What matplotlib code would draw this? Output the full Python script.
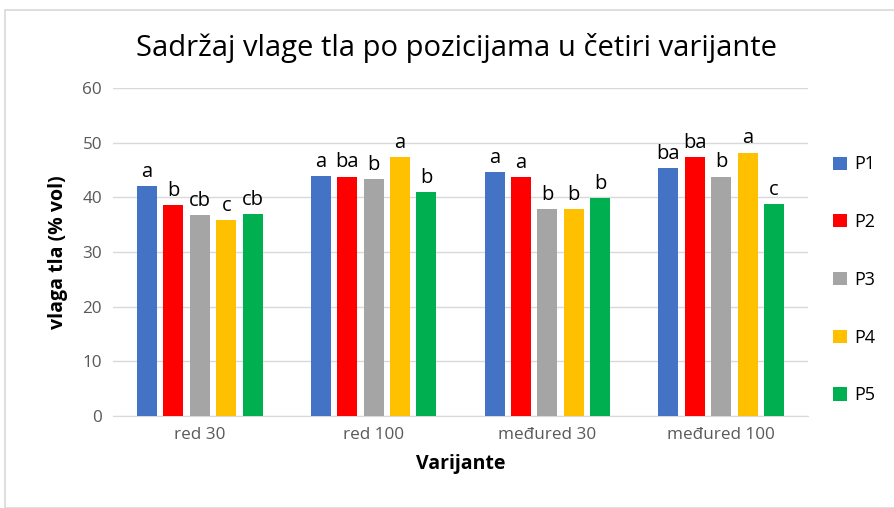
import matplotlib
matplotlib.use("Agg")
import matplotlib.pyplot as plt
import numpy as np
from matplotlib.patches import Rectangle

categories = ["red 30", "red 100", "međured 30", "međured 100"]
series_names = ["P1", "P2", "P3", "P4", "P5"]
P1 = [42.1, 43.9, 44.6, 45.3]
P2 = [38.6, 43.8, 43.7, 47.3]
P3 = [36.8, 43.3, 37.9, 43.8]
P4 = [35.8, 47.4, 37.9, 48.2]
P5 = [36.9, 41.0, 39.9, 38.8]
letters = {
    "P1": ["a", "a", "a", "ba"],
    "P2": ["b", "ba", "a", "ba"],
    "P3": ["cb", "b", "b", "b"],
    "P4": ["c", "a", "b", "a"],
    "P5": ["cb", "b", "b", "c"],
}
colors = ["#4472C4", "#FF0000", "#A5A5A5", "#FFC000", "#00B050"]
values = [P1, P2, P3, P4, P5]

plt.rcParams['font.family'] = ['Open Sans', 'DejaVu Sans']

fig = plt.figure(figsize=(8.94, 5.08), dpi=100)
fig.patches.append(Rectangle((5/894, 0), 1, 1 - 10/508, transform=fig.transFigure,
                             fill=False, edgecolor="#d9d9d9", linewidth=1.2))
ax = fig.add_axes([113/894, 1 - 416/508, 695/894, 328/508])

x = np.arange(len(categories))
step = 0.152
width = 0.115
for i, (name, vals, col) in enumerate(zip(series_names, values, colors)):
    pos = x + (i - 2) * step
    bars = ax.bar(pos, vals, width=width, color=col, label=name, zorder=3)
    for b, lab in zip(bars, letters[name]):
        ax.annotate(lab, (b.get_x() + b.get_width() / 2, b.get_height()),
                    xytext=(0, 3), textcoords="offset points",
                    ha="center", va="bottom", fontsize=14.5, color="black")

ax.set_ylim(0, 60)
ax.set_yticks(range(0, 61, 10))
ax.set_xlim(-0.5, 3.5)
ax.set_xticks(x)
ax.set_xticklabels(categories)
ax.grid(axis="y", color="#d9d9d9", linewidth=1, zorder=0)
for s in ["top", "right", "left"]:
    ax.spines[s].set_visible(False)
ax.spines["bottom"].set_color("#d9d9d9")
ax.tick_params(axis="both", length=0, labelsize=12.3, colors="#595959", pad=8)
ax.set_ylabel("vlaga tla (% vol)", fontsize=14, fontweight="bold", labelpad=10)
ax.set_xlabel("Varijante", fontsize=14, fontweight="bold", labelpad=8)
fig.text(457/894, 1 - 48/508, "Sadržaj vlage tla po pozicijama u četiri varijante",
         ha="center", va="center", fontsize=21, color="black")

leg = ax.legend(loc="center left", bbox_to_anchor=((826 - 113) / 695, 0.415),
                frameon=False, fontsize=13, labelspacing=2.2,
                handlelength=0.75, handleheight=0.75, handletextpad=0.4,
                borderaxespad=0)

fig.savefig("out.png", dpi=100)
